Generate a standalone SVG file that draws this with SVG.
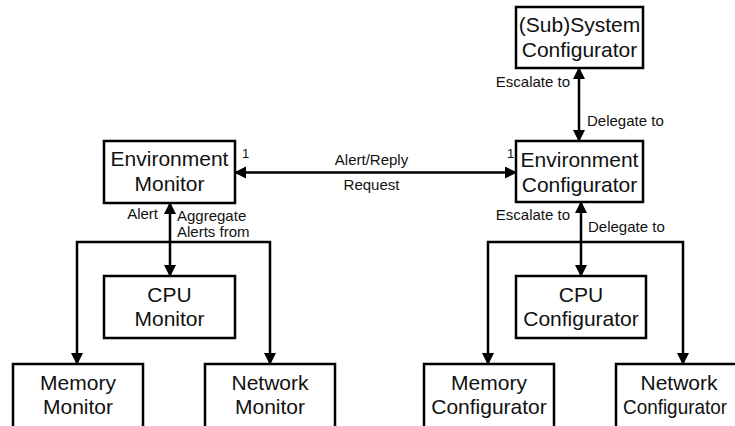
<svg xmlns="http://www.w3.org/2000/svg" width="735" height="426" viewBox="0 0 735 426">
  <defs>
    <marker id="arrow" markerUnits="userSpaceOnUse" markerWidth="13" markerHeight="13" refX="11" refY="6" orient="auto-start-reverse">
      <path d="M0,0 L12,6 L0,12 z" fill="#000"/>
    </marker>
    <style>
      .box { fill: #fff; stroke: #000; stroke-width: 2.5; }
      .name { font-family: "Liberation Sans", Arial, sans-serif; font-size: 21px; text-anchor: middle; fill: #111; }
      .lbl { font-family: "Liberation Sans", Arial, sans-serif; font-size: 15px; fill: #111; }
      .num { font-family: "Liberation Sans", Arial, sans-serif; font-size: 13px; fill: #111; }
      .link { fill: none; stroke: #000; stroke-width: 2.5; marker-start: url(#arrow); marker-end: url(#arrow); }
    </style>
  </defs>
  <rect width="735" height="426" fill="#fff"/>

  <!-- connectors -->
  <g id="connectors">
    <path class="link" d="M235,172.5 H516"/>
    <path class="link" d="M170,203 V276"/>
    <path class="link" d="M77,364 V242 H270 V364"/>
    <path class="link" d="M579,68 V141"/>
    <path class="link" d="M581,202 V276"/>
    <path class="link" d="M488,364 V242 H683 V364"/>

    <text class="num" x="242" y="158">1</text>
    <text class="num" x="507" y="158">1</text>
    <text class="lbl" x="371.5" y="165" text-anchor="middle">Alert/Reply</text>
    <text class="lbl" x="371.5" y="190" text-anchor="middle">Request</text>

    <text class="lbl" x="158" y="219" text-anchor="end">Alert</text>
    <text class="lbl" x="177" y="221">Aggregate</text>
    <text class="lbl" x="177" y="237">Alerts from</text>

    <text class="lbl" x="570" y="87" text-anchor="end">Escalate to</text>
    <text class="lbl" x="587" y="126">Delegate to</text>
    <text class="lbl" x="570" y="220" text-anchor="end">Escalate to</text>
    <text class="lbl" x="588" y="232">Delegate to</text>
  </g>

  <!-- monitoring side -->
  <g id="environment-monitor">
    <rect class="box" x="104" y="141" width="131" height="62"/>
    <text class="name" x="169.5" y="166">Environment</text>
    <text class="name" x="169.5" y="191">Monitor</text>
  </g>
  <g id="cpu-monitor">
    <rect class="box" x="104" y="276" width="131" height="62"/>
    <text class="name" x="169.5" y="302">CPU</text>
    <text class="name" x="169.5" y="326">Monitor</text>
  </g>
  <g id="memory-monitor">
    <rect class="box" x="13" y="364" width="130" height="70"/>
    <text class="name" x="78" y="390">Memory</text>
    <text class="name" x="78" y="414">Monitor</text>
  </g>
  <g id="network-monitor">
    <rect class="box" x="205" y="364" width="130" height="70"/>
    <text class="name" x="270" y="390">Network</text>
    <text class="name" x="270" y="414">Monitor</text>
  </g>

  <!-- configuration side -->
  <g id="subsystem-configurator">
    <rect class="box" x="516" y="7" width="127" height="61"/>
    <text class="name" x="579.5" y="32">(Sub)System</text>
    <text class="name" x="579.5" y="57">Configurator</text>
  </g>
  <g id="environment-configurator">
    <rect class="box" x="516" y="141" width="127" height="61"/>
    <text class="name" x="579.5" y="167">Environment</text>
    <text class="name" x="579.5" y="192">Configurator</text>
  </g>
  <g id="cpu-configurator">
    <rect class="box" x="516" y="276" width="130" height="62"/>
    <text class="name" x="581" y="302">CPU</text>
    <text class="name" x="581" y="326">Configurator</text>
  </g>
  <g id="memory-configurator">
    <rect class="box" x="424" y="364" width="130" height="70"/>
    <text class="name" x="489" y="390">Memory</text>
    <text class="name" x="489" y="414">Configurator</text>
  </g>
  <g id="network-configurator">
    <rect class="box" x="616" y="364" width="130" height="70"/>
    <text class="name" x="679" y="390">Network</text>
    <text class="name" x="675" y="414" textLength="104" lengthAdjust="spacingAndGlyphs">Configurator</text>
  </g>
</svg>
